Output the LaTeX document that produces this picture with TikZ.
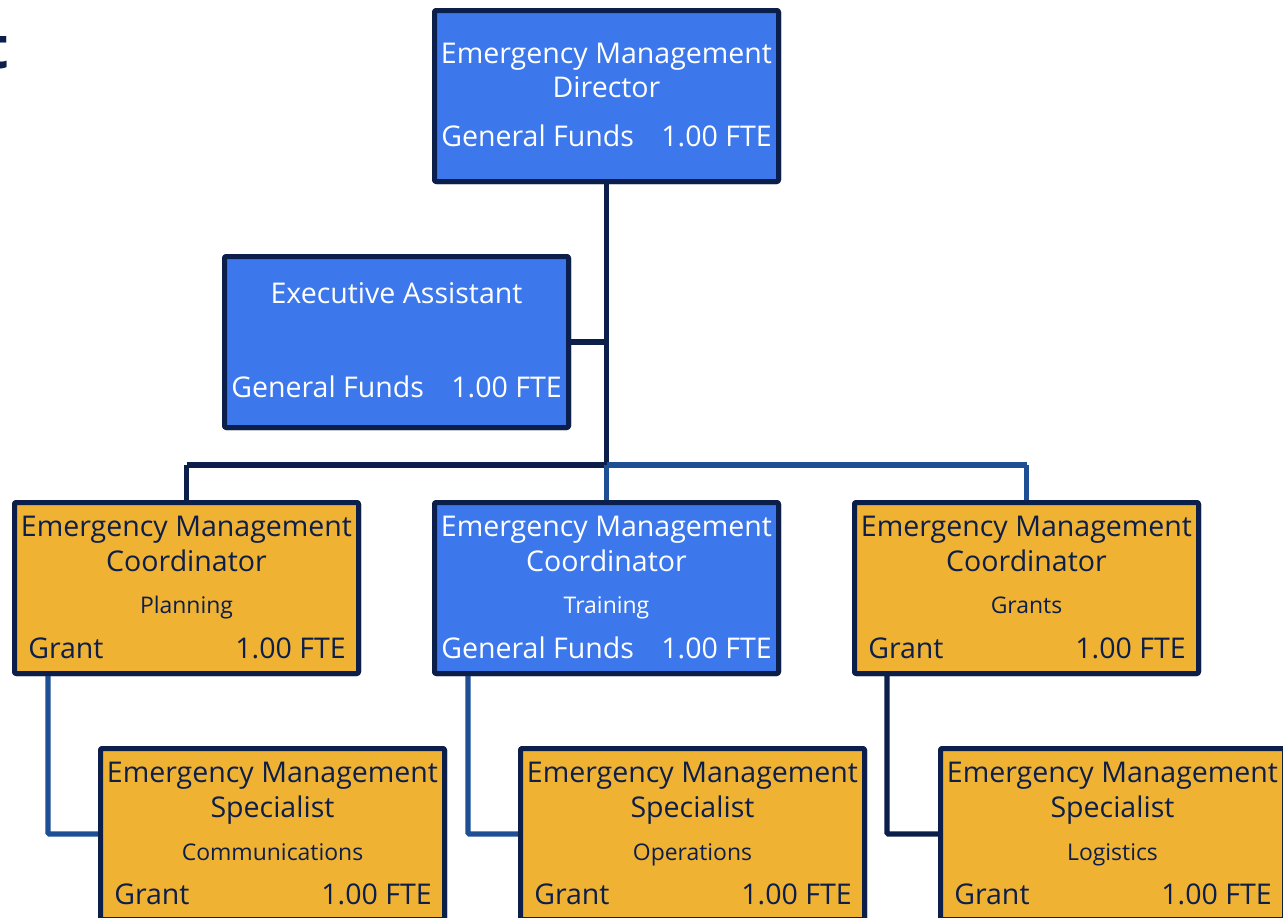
\documentclass[tikz,border=0pt]{standalone}
\usepackage{fontspec}
\setmainfont{Open Sans}
\definecolor{navy}{HTML}{0C1E4A}
\definecolor{boxblue}{HTML}{3C78EB}
\definecolor{boxorange}{HTML}{F0B233}
\definecolor{linkblue}{HTML}{1E4F94}
\tikzset{
  box/.style={draw=navy, line width=3.75pt, rounded corners=1.5pt, minimum width=258pt, minimum height=128.25pt, inner sep=0pt, outer sep=0pt},
  bluebox/.style={box, fill=boxblue},
  orangebox/.style={box, fill=boxorange},
  big/.style={font=\fontsize{21.4}{25}\selectfont, inner sep=0pt, anchor=base},
  small/.style={font=\fontsize{17.2}{20}\selectfont, inner sep=0pt, anchor=base},
  wt/.style={text=white},
  nt/.style={text=navy},
  navylink/.style={draw=navy, line width=4pt},
  bluelink/.style={draw=linkblue, line width=4pt},
}
\begin{document}
\begin{tikzpicture}[x=0.75pt,y=-0.75pt]
\useasboundingbox (0,0) rectangle (1283,918);
\fill[white] (0,0) rectangle (1283,918);
% partially visible title letter
\node[anchor=base east, inner sep=0pt, text=navy, font=\fontsize{44}{50}\selectfont\bfseries] (ttl) at (9,68) {t};

\coordinate (bar) at (606.5,465);
\coordinate (barL) at (186.5,465);
\coordinate (barR) at (1026.5,465);

% boxes (placed to define anchors)
\node[bluebox] (dir) at (606.5,96) {};
\node[bluebox] (exec) at (396.5,342) {};
\node[orangebox] (coL) at (186.5,588) {};
\node[bluebox] (coM) at (606.5,588) {};
\node[orangebox] (coR) at (1026.5,588) {};
\node[orangebox] (spL) at (272.5,834) {};
\node[orangebox] (spM) at (692.5,834) {};
\node[orangebox] (spR) at (1112.5,834) {};

\draw[navylink] (dir.south) -- (bar);
\draw[navylink] (exec.east) -- (exec.east -| bar);
\draw[navylink] (barL) -- (bar);
\draw[navylink] (barL) -- (coL.north);
\draw[bluelink] (bar) -- (barR);
\draw[bluelink] (bar) -- (coM.north);
\draw[bluelink] (barR) -- (coR.north);
\coordinate (dL) at (48,676);
\coordinate (dM) at (468,676);
\coordinate (dR) at (887,676);
\draw[bluelink, rounded corners=1pt] (coL.south -| dL) |- (spL.west);
\draw[bluelink, rounded corners=1pt] (coM.south -| dM) |- (spM.west);
\draw[navylink, rounded corners=1pt] (coR.south -| dR) |- (spR.west);

% redraw box borders on top of link ends
\node[bluebox] at (dir) {};
\node[bluebox] at (exec) {};
\node[orangebox] at (coL) {};
\node[bluebox] at (coM) {};
\node[orangebox] at (coR) {};
\node[orangebox] at (spL) {};
\node[orangebox] at (spM) {};
\node[orangebox] at (spR) {};

% Director texts
\node[big, wt] (t1) at (606.5,63) {Emergency Management};
\node[big, wt] (t2) at (606.5,97) {Director};
\node[big, wt, anchor=base west] (t3) at (441,146) {General Funds};
\node[big, wt, anchor=base east] (t4) at (772,146) {1.00 FTE};

% Executive assistant
\node[big, wt] (e1) at (396.5,303) {Executive Assistant};
\node[big, wt, anchor=base west] (e2) at (231,397) {General Funds};
\node[big, wt, anchor=base east] (e3) at (562,397) {1.00 FTE};

% Coordinators
\node[big, nt] (a1) at (186.5,536) {Emergency Management};
\node[big, nt] (a2) at (186.5,571) {Coordinator};
\node[small, nt] (a3) at (186.5,613) {Planning};
\node[big, nt, anchor=base west] (a4) at (28,658) {Grant};
\node[big, nt, anchor=base east] (a5) at (346,658) {1.00 FTE};

\node[big, wt] (b1) at (606.5,536) {Emergency Management};
\node[big, wt] (b2) at (606.5,571) {Coordinator};
\node[small, wt] (b3) at (606.5,613) {Training};
\node[big, wt, anchor=base west] (b4) at (441,658) {General Funds};
\node[big, wt, anchor=base east] (b5) at (772,658) {1.00 FTE};

\node[big, nt] (c1) at (1026.5,536) {Emergency Management};
\node[big, nt] (c2) at (1026.5,571) {Coordinator};
\node[small, nt] (c3) at (1026.5,613) {Grants};
\node[big, nt, anchor=base west] (c4) at (868,658) {Grant};
\node[big, nt, anchor=base east] (c5) at (1186,658) {1.00 FTE};

% Specialists
\node[big, nt] (d1) at (272.5,782) {Emergency Management};
\node[big, nt] (d2) at (272.5,817) {Specialist};
\node[small, nt] (d3) at (272.5,860) {Communications};
\node[big, nt, anchor=base west] (d4) at (114,904) {Grant};
\node[big, nt, anchor=base east] (d5) at (432,904) {1.00 FTE};

\node[big, nt] (f1) at (692.5,782) {Emergency Management};
\node[big, nt] (f2) at (692.5,817) {Specialist};
\node[small, nt] (f3) at (692.5,860) {Operations};
\node[big, nt, anchor=base west] (f4) at (534,904) {Grant};
\node[big, nt, anchor=base east] (f5) at (852,904) {1.00 FTE};

\node[big, nt] (g1) at (1112.5,782) {Emergency Management};
\node[big, nt] (g2) at (1112.5,817) {Specialist};
\node[small, nt] (g3) at (1112.5,860) {Logistics};
\node[big, nt, anchor=base west] (g4) at (954,904) {Grant};
\node[big, nt, anchor=base east] (g5) at (1272,904) {1.00 FTE};
\end{tikzpicture}
\end{document}
